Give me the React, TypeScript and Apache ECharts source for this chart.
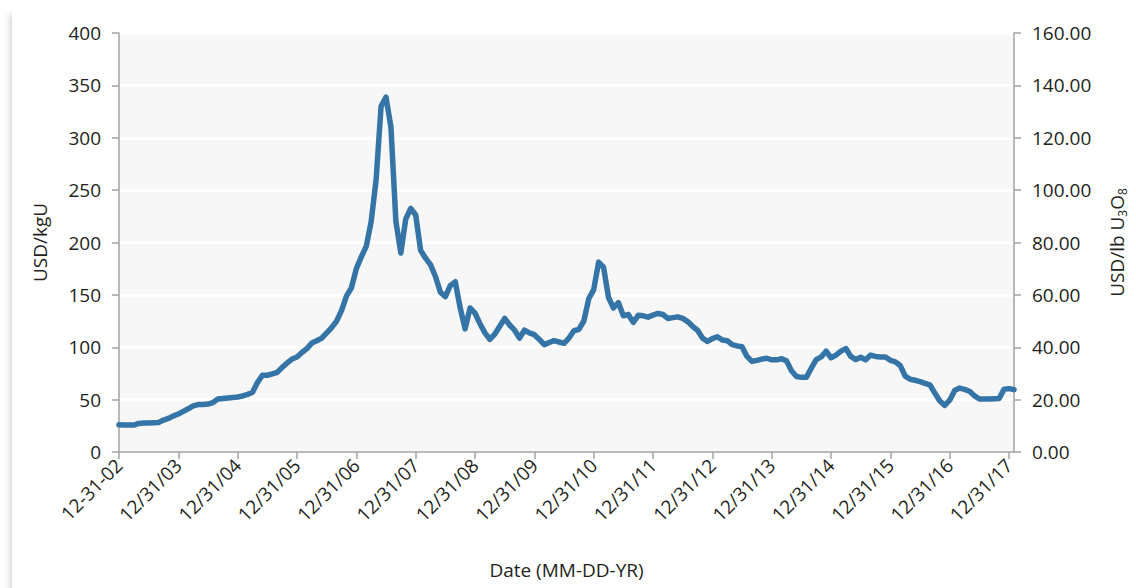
import React, { useEffect, useRef } from "react";
import * as echarts from "echarts";

// Monthly spot price, USD/lb U3O8, Dec 2002 .. Jan 2018
const priceLb: number[] = [
  10.4, 10.3, 10.3, 10.3, 10.9, 11.1, 11.1, 11.2, 11.3, 12.2, 12.8, 13.8,
  14.5, 15.5, 16.5, 17.6, 18.1, 18.1, 18.3, 18.9, 20.2, 20.4, 20.6, 20.8,
  21.0, 21.4, 22.0, 22.8, 26.5, 29.3, 29.3, 29.8, 30.4, 32.3, 34.0, 35.5,
  36.3, 38.0, 39.5, 41.6, 42.5, 43.5, 45.5, 47.5, 50.0, 54.0, 59.5, 62.7,
  70.0, 74.5, 78.5, 88.0, 104.0, 132.0, 135.5, 124.0, 88.0, 76.0, 89.0, 93.0,
  90.5, 77.0, 74.0, 71.5, 67.0, 61.0, 59.3, 63.5, 65.0, 55.0, 47.0, 55.0,
  53.0, 49.0, 45.5, 43.0, 45.0, 48.0, 51.0, 48.5, 46.5, 43.5, 46.5, 45.5,
  44.8, 43.0, 41.0, 41.8, 42.5, 42.0, 41.5, 43.5, 46.3, 46.8, 50.0, 58.5,
  62.0, 72.5, 70.5, 59.0, 55.0, 57.0, 52.0, 52.5, 49.5, 52.2, 52.0, 51.5,
  52.3, 52.9, 52.5, 51.0, 51.3, 51.6, 51.0, 49.8, 48.0, 46.5, 43.5, 42.2,
  43.3, 44.0, 42.8, 42.5, 41.0, 40.5, 40.2, 36.5, 34.6, 35.0, 35.5, 35.8,
  35.2, 35.2, 35.6, 34.8, 31.0, 28.8, 28.5, 28.5, 32.0, 35.3, 36.3, 38.5,
  36.0, 37.0, 38.5, 39.5, 36.5, 35.3, 36.2, 35.2, 37.0, 36.5, 36.3, 36.3,
  35.0, 34.4, 33.0, 29.0, 27.8, 27.4, 26.9, 26.2, 25.6, 22.5, 19.5, 17.8,
  19.8, 23.5, 24.4, 23.9, 23.2, 21.5, 20.2, 20.2, 20.2, 20.3, 20.4, 24.0,
  24.2, 23.8,
];

const yearLabels: string[] = [
  "12-31-02", "12/31/03", "12/31/04", "12/31/05", "12/31/06", "12/31/07",
  "12/31/08", "12/31/09", "12/31/10", "12/31/11", "12/31/12", "12/31/13",
  "12/31/14", "12/31/15", "12/31/16", "12/31/17",
];

const months: string[] = priceLb.map((_, i) => {
  const m = (11 + i) % 12;
  const y = 2002 + Math.floor((11 + i) / 12);
  return `${y}-${String(m + 1).padStart(2, "0")}`;
});

const FONT = "'Open Sans', 'Noto Sans', sans-serif";
const TXT = "#231f20";
const AX = "#a3a3a3";
const FS = 19;

export default function App() {
  const ref = useRef<HTMLDivElement>(null);
  useEffect(() => {
    if (!ref.current) return;
    const chart = echarts.init(ref.current, null, { renderer: "svg" });
    const isYear = (i: number) => i % 12 === 0;
    chart.setOption({
      animation: false,
      backgroundColor: "#ffffff",
      textStyle: { fontFamily: FONT },
      graphic: [
        {
          type: "rect",
          z: -100,
          silent: true,
          shape: { x: 12, y: 8, width: 1140, height: 600 },
          style: {
            fill: "#ffffff",
            shadowBlur: 6,
            shadowOffsetX: -2,
            shadowOffsetY: 6,
            shadowColor: "rgba(0,0,0,0.18)",
          },
        },
      ],
      grid: {
        left: 119,
        right: 110,
        top: 33,
        bottom: 136,
        show: true,
        backgroundColor: "#f7f7f7",
        borderWidth: 0,
      },
      xAxis: {
        type: "category",
        boundaryGap: false,
        data: months,
        name: "Date (MM-DD-YR)",
        nameLocation: "middle",
        nameGap: 108,
        nameTextStyle: { fontSize: FS, color: TXT, fontFamily: FONT },
        axisLine: { lineStyle: { color: AX, width: 1.5 } },
        axisTick: {
          interval: (i: number) => isYear(i),
          length: 7,
          lineStyle: { color: AX, width: 1.5 },
        },
        axisLabel: {
          interval: (i: number) => isYear(i),
          formatter: (_v: string, i: number) => yearLabels[i / 12] ?? "",
          rotate: 45,
          margin: 10,
          fontSize: FS,
          color: TXT,
          fontFamily: FONT,
        },
        splitLine: { show: false },
      },
      yAxis: [
        {
          type: "value",
          min: 0,
          max: 400,
          interval: 50,
          name: "USD/kgU",
          nameLocation: "middle",
          nameRotate: 90,
          nameGap: 70,
          nameTextStyle: { fontSize: FS, color: TXT, fontFamily: FONT },
          axisLine: { show: true, lineStyle: { color: AX, width: 1.5 } },
          axisTick: { show: true, length: 7, lineStyle: { color: AX, width: 1.5 } },
          axisLabel: { fontSize: FS, color: TXT, margin: 18, fontFamily: FONT },
          splitLine: { show: true, lineStyle: { color: "#ffffff", width: 3 } },
        },
        {
          type: "value",
          position: "right",
          min: 0,
          max: 160,
          interval: 20,
          name: "USD/lb U{sub|3}O{sub|8}",
          nameLocation: "middle",
          nameRotate: 90,
          nameGap: 92,
          nameTextStyle: {
            fontSize: FS,
            color: TXT,
            fontFamily: FONT,
            rich: {
              sub: {
                fontSize: 12,
                color: TXT,
                fontFamily: FONT,
                verticalAlign: "bottom",
                padding: [10, 0, 0, 0],
              },
            },
          },
          axisLine: { show: true, lineStyle: { color: AX, width: 1.5 } },
          axisTick: { show: true, length: 7, lineStyle: { color: AX, width: 1.5 } },
          axisLabel: {
            fontSize: FS,
            color: TXT,
            margin: 18,
            fontFamily: FONT,
            formatter: (v: number) => v.toFixed(2),
          },
          splitLine: { show: false },
        },
      ],
      series: [
        {
          type: "line",
          yAxisIndex: 1,
          data: priceLb,
          showSymbol: false,
          symbol: "none",
          lineStyle: { color: "#3474a7", width: 5.5, join: "round", cap: "round" },
          z: 5,
        },
      ],
    });
    return () => chart.dispose();
  }, []);
  return (
    <div
      ref={ref}
      style={{ position: "fixed", left: 0, top: 0, width: 1136, height: 588 }}
    />
  );
}
